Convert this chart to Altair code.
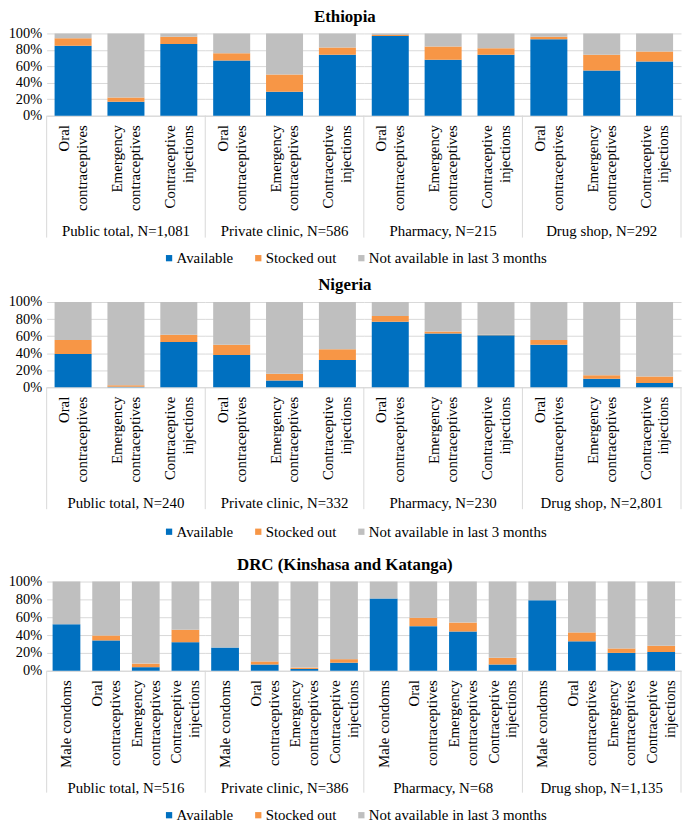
import altair as alt
import pandas as pd

FONT = "'Liberation Serif', 'Times New Roman', Times, serif"
STATUSES = ["Available", "Stocked out", "Not available in last 3 months"]
COLORS = ["#0070C0", "#F79646", "#BFBFBF"]

products_3 = ["Oral contraceptives", "Emergency contraceptives", "Contraceptive injections"]
products_4 = ["Male condoms", "Oral contraceptives", "Emergency contraceptives", "Contraceptive injections"]

eth_outlets = ["Public total, N=1,081", "Private clinic, N=586", "Pharmacy, N=215", "Drug shop, N=292"]
eth_available = [85, 17, 87, 67, 29, 74, 97, 68, 74, 93, 55, 66]
eth_stocked = [9, 5, 9, 9, 21, 9, 1, 16, 8, 3, 19, 12]

nga_outlets = ["Public total, N=240", "Private clinic, N=332", "Pharmacy, N=230", "Drug shop, N=2,801"]
nga_available = [39, 0.5, 53, 38, 8, 32, 77, 63, 61, 50, 10, 5]
nga_stocked = [16.5, 2, 8.5, 12, 8, 12.5, 6.5, 2.5, 0.5, 5.5, 4, 7.5]

drc_outlets = ["Public total, N=516", "Private clinic, N=386", "Pharmacy, N=68", "Drug shop, N=1,135"]
drc_available = [52, 34, 4, 32, 26, 7, 2, 9, 81, 50, 44, 7, 79, 33, 20, 21]
drc_stocked = [0, 5.5, 4, 14, 0, 3.5, 1.5, 4, 0, 9.5, 10, 7.5, 0, 10, 5, 7]

W = 160
SEP = 123
LH = 18


def panel(country, outlets, products, avail, stock, H, leg_gap):
    rows = []
    k = 0
    for gi, o in enumerate(outlets):
        for pi, p in enumerate(products):
            a = avail[k]
            s = stock[k]
            k += 1
            for si, (st, v) in enumerate(zip(STATUSES, [a, s, 100 - a - s])):
                rows.append(dict(outlet=o, gi=gi, product=p, pi=pi, status=st, si=si, value=v))
    df = pd.DataFrame(rows)
    last = len(outlets) - 1

    bars = alt.Chart().mark_bar().encode(
        x=alt.X("product:N", sort=products, title=None,
                scale=alt.Scale(paddingInner=0.3, paddingOuter=0.15),
                axis=alt.Axis(labelAngle=-90, labelAlign="right", labelBaseline="middle",
                              labelExpr="datum.label == 'Male condoms' ? datum.label : split(datum.label, ' ')",
                              labelOffset={"condition": {"test": "datum.label == 'Male condoms'", "value": 0},
                                           "value": -LH / 2},
                              labelFont=FONT, labelFontSize=15, labelColor="black", labelLineHeight=LH,
                              ticks=False, domainColor="#D9D9D9", labelPadding=9)),
        y=alt.Y("value:Q", stack="zero", title=None, scale=alt.Scale(domain=[0, 100], nice=False),
                axis=alt.Axis(values=[0, 20, 40, 60, 80, 100], labelExpr="datum.value + '%'",
                              grid=True, gridColor="#D9D9D9", domain=False, ticks=False,
                              labelFont=FONT, labelFontSize=14.5, labelColor="black", labelPadding=5)),
        color=alt.Color("status:N", sort=STATUSES,
                        scale=alt.Scale(domain=STATUSES, range=COLORS),
                        legend=alt.Legend(title=None, orient="none", direction="horizontal",
                                          legendX=116, legendY=H + leg_gap,
                                          symbolType="square", symbolSize=40, symbolStrokeWidth=0,
                                          labelFont=FONT, labelFontSize=15, labelColor="black",
                                          labelOffset=0, labelLimit=0, columnPadding=17)),
        order=alt.Order("si:Q"),
    )
    left = alt.Chart().mark_rule(color="#D9D9D9").encode(
        x=alt.value(0), y=alt.value(H), y2=alt.value(H + SEP)
    ).transform_filter("datum.pi == 0 && datum.si == 0")
    right = alt.Chart().mark_rule(color="#D9D9D9").encode(
        x=alt.value(W), y=alt.value(H), y2=alt.value(H + SEP)
    ).transform_filter(f"datum.gi == {last} && datum.pi == 0 && datum.si == 0")

    return alt.layer(bars, left, right, data=df).properties(width=W, height=H).facet(
        column=alt.Column("outlet:N", sort=outlets, title=None,
                          header=alt.Header(labelOrient="bottom", labelFont=FONT, labelFontSize=15,
                                            labelColor="black", labelPadding=14)),
        spacing=0,
        bounds="flush",
        title=alt.Title(country, font=FONT, fontSize=17, fontWeight="bold", color="black",
                        anchor="middle", offset=0),
    )


p1 = panel("Ethiopia", eth_outlets, products_3, eth_available, eth_stocked, 83, 136)
p2 = panel("Nigeria", nga_outlets, products_3, nga_available, nga_stocked, 86, 138)
p3 = panel("DRC (Kinshasa and Katanga)", drc_outlets, products_4, drc_available, drc_stocked, 90, 138)

top = alt.vconcat(p1, p2, spacing=10).resolve_legend(color="independent")
chart = alt.vconcat(top, p3, spacing=16).resolve_legend(color="independent").configure_view(
    stroke=None
).properties(padding={"left": 0, "top": -4, "right": 0, "bottom": 0})

chart.save("out.html", embed_options={"renderer": "svg", "actions": False})
